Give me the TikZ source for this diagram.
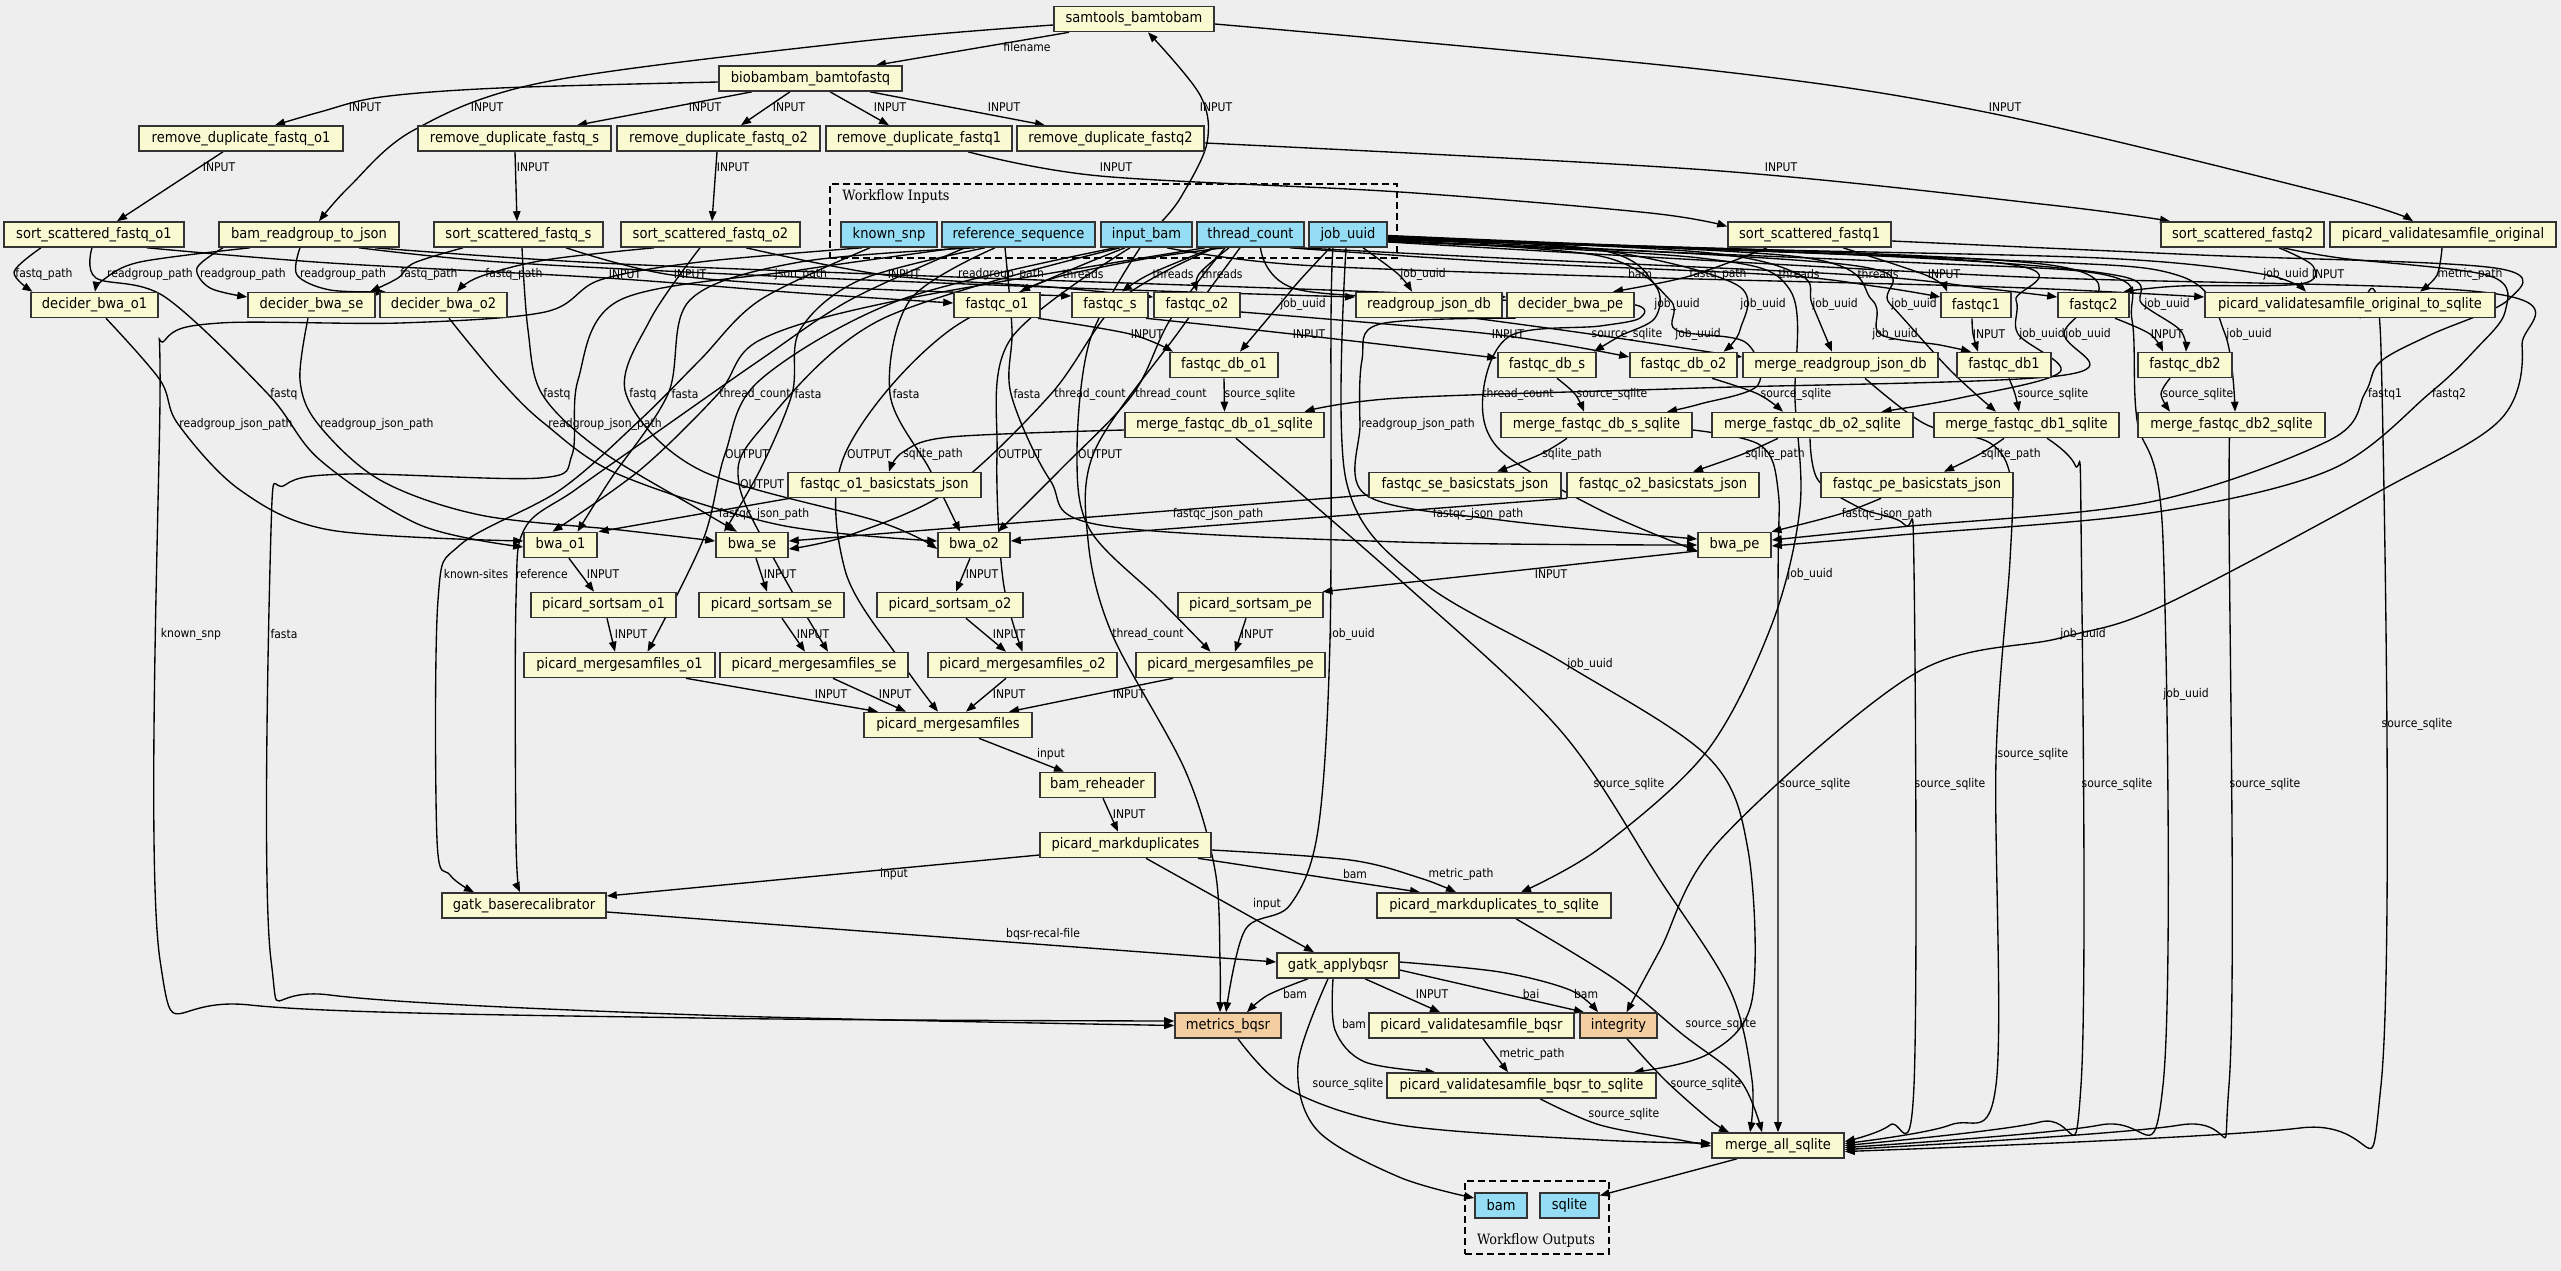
\documentclass[tikz,border=0pt]{standalone}
\usepackage{fontspec}
\newfontfamily\gvfont{DejaVu Sans}[FakeStretch=0.9]
\newfontfamily\gvserif{DejaVu Serif}[FakeStretch=0.9]
\usetikzlibrary{arrows.meta}
\definecolor{bgc}{RGB}{238,238,238}
\definecolor{stepc}{RGB}{250,250,210}
\definecolor{ioc}{RGB}{148,221,244}
\definecolor{subc}{RGB}{243,206,161}
\pgfdeclarelayer{bglayer}
\pgfdeclarelayer{edgelayer}
\pgfsetlayers{bglayer,edgelayer,main}
\tikzset{
 box/.style={draw=black!80,line width=1.6pt,minimum height=25pt,inner xsep=6pt,inner ysep=2pt,font=\gvfont\fontsize{14.5}{16}\selectfont,text=black},
 stpbox/.style={box,fill=stepc},
 iobox/.style={box,fill=ioc},
 subbox/.style={box,fill=subc},
 ed/.style={draw=black,line width=1.35pt,-{Triangle[length=10pt,width=7.5pt]}},
 lb/.style={font=\gvfont\fontsize{12}{13}\selectfont,inner sep=0pt,text=black},
 clus/.style={draw=black,line width=1.4pt,dash pattern=on 7pt off 4pt},
}
\newcounter{lbc}
\newcommand\nd[5]{\node[#1,minimum width=#5pt] (#2) at (#3) {\detokenize{#4}};}
\newcommand\lab[3]{\stepcounter{lbc}\node[lb] (lab\arabic{lbc}) at (#1,#2) {\detokenize{#3}};}
\newcommand\edg[1]{\begin{pgfonlayer}{edgelayer}\draw[ed] plot[smooth,tension=.55] coordinates {#1};\end{pgfonlayer}}
\begin{document}
\begin{tikzpicture}[x=1pt,y=-1pt]
\begin{pgfonlayer}{bglayer}
\fill[bgc] (0,0) rectangle (2561,1271);
\node[clus,minimum width=567pt,minimum height=74pt] (cin) at (1113.5,221) {};
\node[clus,minimum width=144pt,minimum height=73pt] (cout) at (1537,1217.5) {};
\end{pgfonlayer}
\useasboundingbox (0,0) rectangle (2561,1271);
\node[font=\gvserif\fontsize{14.3}{16}\selectfont,inner sep=0pt] (tin) at (896,197) {Workflow Inputs};
\node[font=\gvserif\fontsize{14.3}{16}\selectfont,inner sep=0pt] (tout) at (1536,1241) {Workflow Outputs};
% nodes
\nd{stpbox}{st}{1134,19}{samtools_bamtobam}{160}
\nd{stpbox}{bb}{810.5,78.5}{biobambam_bamtofastq}{183}
\nd{stpbox}{rdo1}{241,138.5}{remove_duplicate_fastq_o1}{204}
\nd{stpbox}{rds}{514.5,138.5}{remove_duplicate_fastq_s}{193}
\nd{stpbox}{rdo2}{718.5,138.5}{remove_duplicate_fastq_o2}{203}
\nd{stpbox}{rd1}{919,138.5}{remove_duplicate_fastq1}{186}
\nd{stpbox}{rd2}{1110.5,138.5}{remove_duplicate_fastq2}{187}
\nd{stpbox}{so1}{94,234.5}{sort_scattered_fastq_o1}{180}
\nd{stpbox}{brj}{309,234.5}{bam_readgroup_to_json}{180}
\nd{stpbox}{ss}{518.5,234.5}{sort_scattered_fastq_s}{169}
\nd{stpbox}{so2}{710.5,234.5}{sort_scattered_fastq_o2}{179}
\nd{iobox}{ksnp}{889,234.5}{known_snp}{96}
\nd{iobox}{ref}{1018.5,234.5}{reference_sequence}{153}
\nd{iobox}{ibam}{1146.5,234.5}{input_bam}{91}
\nd{iobox}{tc}{1250.5,234.5}{thread_count}{107}
\nd{iobox}{ju}{1348,234.5}{job_uuid}{78}
\nd{stpbox}{s1}{1809.5,234.5}{sort_scattered_fastq1}{163}
\nd{stpbox}{s2}{2242.5,234.5}{sort_scattered_fastq2}{163}
\nd{stpbox}{pvo}{2443,234.5}{picard_validatesamfile_original}{226}
\nd{stpbox}{do1}{94.5,305}{decider_bwa_o1}{127}
\nd{stpbox}{dse}{311.5,305}{decider_bwa_se}{127}
\nd{stpbox}{do2}{443.5,305}{decider_bwa_o2}{127}
\nd{stpbox}{fo1}{997,305}{fastqc_o1}{86}
\nd{stpbox}{fs}{1110,305}{fastqc_s}{76}
\nd{stpbox}{fo2}{1197,305}{fastqc_o2}{86}
\nd{stpbox}{rjdb}{1429,305}{readgroup_json_db}{146}
\nd{stpbox}{dpe}{1570.5,305}{decider_bwa_pe}{127}
\nd{stpbox}{f1}{1976,305}{fastqc1}{70}
\nd{stpbox}{f2}{2093.5,305}{fastqc2}{71}
\nd{stpbox}{pvos}{2350,305}{picard_validatesamfile_original_to_sqlite}{290}
\nd{stpbox}{fdo1}{1224,365}{fastqc_db_o1}{108}
\nd{stpbox}{fds}{1547,365}{fastqc_db_s}{98}
\nd{stpbox}{fdo2}{1683.5,365}{fastqc_db_o2}{107}
\nd{stpbox}{mrj}{1840.5,365}{merge_readgroup_json_db}{195}
\nd{stpbox}{fd1}{2004,365}{fastqc_db1}{94}
\nd{stpbox}{fd2}{2185,365}{fastqc_db2}{94}
\nd{stpbox}{mo1}{1224.5,425}{merge_fastqc_db_o1_sqlite}{199}
\nd{stpbox}{ms}{1596.5,425}{merge_fastqc_db_s_sqlite}{191}
\nd{stpbox}{mo2}{1812.5,425}{merge_fastqc_db_o2_sqlite}{201}
\nd{stpbox}{md1}{2026.5,425}{merge_fastqc_db1_sqlite}{185}
\nd{stpbox}{md2}{2231.5,425}{merge_fastqc_db2_sqlite}{187}
\nd{stpbox}{bo1}{884.5,485}{fastqc_o1_basicstats_json}{193}
\nd{stpbox}{bse}{1465,485}{fastqc_se_basicstats_json}{192}
\nd{stpbox}{bo2}{1663,485}{fastqc_o2_basicstats_json}{192}
\nd{stpbox}{bpe}{1917,485}{fastqc_pe_basicstats_json}{192}
\nd{stpbox}{wo1}{560.5,545}{bwa_o1}{73}
\nd{stpbox}{wse}{752,545}{bwa_se}{72}
\nd{stpbox}{wo2}{974,545}{bwa_o2}{72}
\nd{stpbox}{wpe}{1734.5,545}{bwa_pe}{73}
\nd{stpbox}{pso1}{603.5,605}{picard_sortsam_o1}{145}
\nd{stpbox}{psse}{771.5,605}{picard_sortsam_se}{145}
\nd{stpbox}{pso2}{950,605}{picard_sortsam_o2}{146}
\nd{stpbox}{pspe}{1250.5,605}{picard_sortsam_pe}{145}
\nd{stpbox}{pmo1}{619.5,665}{picard_mergesamfiles_o1}{191}
\nd{stpbox}{pmse}{814,665}{picard_mergesamfiles_se}{188}
\nd{stpbox}{pmo2}{1022.5,665}{picard_mergesamfiles_o2}{189}
\nd{stpbox}{pmpe}{1230.5,665}{picard_mergesamfiles_pe}{189}
\nd{stpbox}{pm}{948,725}{picard_mergesamfiles}{168}
\nd{stpbox}{br}{1097.5,785}{bam_reheader}{115}
\nd{stpbox}{pmd}{1125.5,845}{picard_markduplicates}{171}
\nd{stpbox}{gbr}{524,905.5}{gatk_baserecalibrator}{164}
\nd{stpbox}{pmds}{1494,905.5}{picard_markduplicates_to_sqlite}{234}
\nd{stpbox}{gab}{1338,965.5}{gatk_applybqsr}{122}
\nd{subbox}{mb}{1228,1025.5}{metrics_bqsr}{106}
\nd{stpbox}{pvb}{1471.5,1025.5}{picard_validatesamfile_bqsr}{205}
\nd{subbox}{integ}{1618.5,1025.5}{integrity}{77}
\nd{stpbox}{pvbs}{1521.5,1085.5}{picard_validatesamfile_bqsr_to_sqlite}{269}
\nd{stpbox}{mall}{1778,1145.5}{merge_all_sqlite}{132}
\nd{iobox}{obam}{1501,1205.5}{bam}{52}
\nd{iobox}{osql}{1569.5,1205.5}{sqlite}{59}
% edges
\edg{([xshift=15.5]ibam.north) (1181,197) (1207,143) (1200,95) ([xshift=14]st.south)}
\edg{([xshift=-65]st.south) ([xshift=65.5]bb.north)}
\edg{([yshift=-6]st.west) (854,42) (545,82) (414,130) (349,187) ([xshift=10]brj.north)}
\edg{([yshift=-5]st.east) (1708,70) (1985,112) (2333,195) ([xshift=-30]pvo.north)}
\edg{([yshift=-3.5]bb.west) (500,88) (381,97) (320,112) ([xshift=34]rdo1.north)}
\edg{([xshift=-58.5]bb.south) ([xshift=62.5]rds.north)}
\edg{([xshift=-20.5]bb.south) ([xshift=22.5]rdo2.north)}
\edg{([xshift=19.5]bb.south) ([xshift=-30]rd1.north)}
\edg{([xshift=59.5]bb.south) ([xshift=-65.5]rd2.north)}
\edg{([xshift=-18]rdo1.south) ([xshift=23]so1.north)}
\edg{([xshift=0.5]rds.south) ([xshift=-1.5]ss.north)}
\edg{([xshift=-1.5]rdo2.south) ([xshift=1.5]so2.north)}
\edg{([xshift=49]rd1.south) (1100,176) (1400,192) (1650,213) ([yshift=8]s1.west)}
\edg{([yshift=-4.5]rd2.east) (1707,170) (2050,205) ([xshift=-72.5]s2.north)}
\edg{([xshift=-53]so1.south) (14,272) ([xshift=-62]do1.north)}
\edg{([xshift=-59]brj.south) (140,262) (103,280) ([xshift=0.5]do1.north)}
\edg{([xshift=-86]brj.south) (197,268) (210,288) ([yshift=8]dse.west)}
\edg{([xshift=-9]brj.south) (297,275) (330,290) ([xshift=-58]do2.north)}
\edg{([xshift=-55.5]ss.south) (414,263) (398,278) ([xshift=58.5]dse.north)}
\edg{([xshift=-56.5]so2.south) (545,260) (479,277) ([xshift=13.5]do2.north)}
\edg{([xshift=53]so1.south) (330,263) (606,278) (800,293) ([yshift=2]fo1.west)}
\edg{([xshift=47.5]ss.south) (672,275) (850,288) ([yshift=9]fs.west)}
\edg{([xshift=35.5]so2.south) (885,275) (1050,287) ([yshift=8]fo2.west)}
\edg{([xshift=50]brj.south) (500,262) (772,276) (1100,289) ([yshift=8]rjdb.west)}
\edg{([xshift=66]brj.south) (600,263) (955,277) (1300,289) ([yshift=8]dpe.west)}
\edg{([xshift=-26.5]tc.south) (1150,258) (1061,276) ([xshift=23]fo1.north)}
\edg{([xshift=-37.5]tc.south) (1150,274) ([xshift=12]fs.north)}
\edg{([xshift=-21.5]tc.south) (1199,274) (fo2.north)}
\edg{([xshift=15]ju.south) (1398,274) ([xshift=-17]rjdb.north)}
\edg{([xshift=20.5]ibam.south) (1300,265) (1626,277) (2000,287) ([yshift=8]pvos.west)}
\edg{([xshift=-42.5]s1.south) (1690,276) ([xshift=42.5]dpe.north)}
\edg{([xshift=33.5]s1.south) (1928,276) ([xshift=-29]f1.north)}
\edg{([xshift=39.5]tc.south) (1500,262) (1777,275) (1880,287) ([yshift=8]f1.west)}
\edg{([xshift=49.5]tc.south) (1500,258) (1855,275) (1990,289) ([yshift=8]f2.west)}
\edg{([xshift=36.5]s2.south) (2313,266) (2300,284) (2180,286) ([xshift=30]f2.north)}
\edg{([yshift=-1]ju.east) (1700,248) (2100,258) (2262,274) ([xshift=-44]pvos.north)}
\edg{([xshift=-1]pvo.south) (2437,275) ([xshift=70]pvos.north)}
\edg{([xshift=-18]ju.south) (1300,280) (1280,304) ([xshift=16]fdo1.north)}
\edg{([xshift=41]fo1.south) (1130,334) ([xshift=-51]fdo1.north)}
\edg{([xshift=36]fs.south) (1292,334) ([yshift=7]fds.west)}
\edg{([yshift=-7]fo2.east) (1491,334) ([yshift=8]fdo2.west)}
\edg{([xshift=46]rjdb.south) (1590,334) ([yshift=8]mrj.west)}
\edg{([yshift=-1.5]ju.east) (1600,250) (1655,285) (1655,318) (1620,336) ([xshift=47]fds.north)}
\edg{([yshift=-2]ju.east) (1600,250) (1737,285) (1740,330) ([xshift=40]fdo2.north)}
\edg{([yshift=-2.5]ju.east) (1700,252) (1800,275) (1812,304) ([xshift=-8.5]mrj.north)}
\edg{([yshift=-3]ju.east) (1800,257) (1872,300) (1880,334) (1940,345) ([xshift=-33]fd1.north)}
\edg{([xshift=-4]f1.south) (1973,334) ([xshift=-26]fd1.north)}
\edg{([xshift=21.5]f2.south) (2150,334) ([xshift=-22]fd2.north)}
\edg{([yshift=-3.5]ju.east) (1900,257) (2120,276) (2142,304) (2180,330) ([xshift=1]fd2.north)}
\edg{([yshift=-4]ju.east) (2000,260) (2180,276) (2225,334) ([xshift=3.5]md2.north)}
\edg{([yshift=-4.5]ju.east) (1850,265) (1890,304) (1950,370) ([xshift=-30.5]md1.north)}
\edg{([yshift=-5]ju.east) (1990,262) (2016,300) (2018,334) (2060,372) (1960,398) ([xshift=69]mo2.north)}
\edg{([yshift=-5.5]ju.east) (2050,265) (2064,334) (2065,375) (1700,388) (1400,398) ([xshift=80]mo1.north)}
\edg{([yshift=-6]ju.east) (1600,256) (1670,300) (1676,330) (1745,342) (1758,385) (1700,404) ([xshift=70.5]ms.north)}
\edg{(fdo1.south) (mo1.north)}
\edg{([xshift=10]fds.south) (1575,394) ([xshift=-12.5]ms.north)}
\edg{([xshift=28.5]fdo2.south) (1758,394) ([xshift=-29.5]mo2.north)}
\edg{([xshift=5]fd1.south) (2015,394) ([xshift=-7.5]md1.north)}
\edg{([xshift=-15]fd2.south) (2161,394) ([xshift=-61.5]md2.north)}
\edg{([yshift=-5]mo1.west) (950,437) (903,452) ([xshift=4.5]bo1.north)}
\edg{([xshift=-29.5]ms.south) (1541,454) ([xshift=32]bse.north)}
\edg{([xshift=-34.5]mo2.south) (1743,454) ([xshift=30]bo2.north)}
\edg{([xshift=-22.5]md1.south) (1980,454) ([xshift=27]bpe.north)}
\edg{([xshift=-94.5]bo1.south) ([xshift=38]wo1.north)}
\edg{([yshift=-10]bse.west) ([yshift=4]wse.east)}
\edg{([xshift=-96]bo2.south) ([yshift=4]wo2.east)}
\edg{([xshift=-36]bpe.south) (1840,514) ([xshift=37]wpe.north)}
\edg{([xshift=11.5]do1.south) (160,380) (178,424) (240,490) (330,530) ([yshift=4]wo1.west)}
\edg{([xshift=-3.5]dse.south) (300,380) (318,424) (380,480) (480,515) (620,530) ([yshift=4]wse.west)}
\edg{([xshift=5.5]do2.south) (500,380) (545,424) (620,475) (780,525) ([yshift=4]wo2.west)}
\edg{([xshift=-55]dpe.south) (1380,324) (1362,360) (1360,424) (1366,495) (1500,520) ([yshift=6]wpe.west)}
\edg{([xshift=10]tc.south) (1300,290) (1500,300) (1630,304) (1640,318) (1600,326) (1510,336) (1483,394) (1500,450) (1600,510) ([yshift=-6]wpe.west)}
\edg{([xshift=-2]so1.south) (96,278) (165,297) (268,394) (320,460) (420,525) ([yshift=-2]wo1.west)}
\edg{([xshift=3.5]ss.south) (528,330) (542,394) (600,450) (700,510) ([xshift=-15]wse.north)}
\edg{([xshift=-10.5]so2.south) (650,320) (626,394) (700,470) (880,522) ([yshift=-4]wo2.west)}
\edg{([yshift=-6.5]s1.east) (2200,255) (2495,268) (2508,300) (2430,335) (2380,362) (2365,393) (2330,440) (2150,502) (1900,527) ([yshift=5]wpe.east)}
\edg{([xshift=40.5]s2.south) (2340,258) (2490,276) (2505,312) (2475,350) (2430,393) (2330,470) (2150,513) (1900,535) ([yshift=-1]wpe.east)}
\edg{([xshift=-43.5]ref.south) (800,262) (690,300) (668,394) (610,480) ([xshift=17]wo1.north)}
\edg{([xshift=-33.5]ref.south) (860,280) (800,330) (792,394) (760,470) ([xshift=-28]wse.north)}
\edg{([xshift=-23.5]ref.south) (910,300) (890,394) (930,470) ([xshift=-14]wo2.north)}
\edg{([xshift=-13.5]ref.south) (1012,330) (1011,394) (1050,480) (1100,525) (1400,542) (wpe.west)}
\edg{([xshift=-45.5]tc.south) (900,300) (760,340) (718,394) (640,470) ([xshift=-8]wo1.north)}
\edg{([xshift=-35.5]tc.south) (1120,300) (1051,394) (950,490) (850,535) ([yshift=-4]wse.east)}
\edg{([xshift=-25.5]tc.south) (1170,320) (1133,394) (1060,470) ([xshift=24]wo2.north)}
\edg{([xshift=-31.5]ibam.south) (900,300) (760,380) (725,454) (703,540) ([xshift=28]pmo1.north)}
\edg{([xshift=-26.5]ibam.south) (880,320) (760,430) (739,484) (780,570) ([xshift=14]pmse.north)}
\edg{([xshift=-21.5]ibam.south) (950,330) (845,454) (845,570) (900,660) ([xshift=-10]pm.north)}
\edg{([xshift=-16.5]ibam.south) (1010,340) (997,454) (1003,580) (pmo2.north)}
\edg{([xshift=-6.5]ibam.south) (1090,340) (1077,454) (1090,530) (1160,600) ([xshift=-20]pmpe.north)}
\edg{([xshift=8.5]wo1.south) ([xshift=-9.5]pso1.north)}
\edg{([xshift=4]wse.south) ([xshift=-4.5]psse.north)}
\edg{([xshift=-4]wo2.south) ([xshift=6]pso2.north)}
\edg{([yshift=-6]wpe.west) ([xshift=72]pspe.north)}
\edg{([xshift=3.5]pso1.south) ([xshift=-4.5]pmo1.north)}
\edg{([xshift=10.5]psse.south) ([xshift=-9]pmse.north)}
\edg{([xshift=16]pso2.south) ([xshift=-16.5]pmo2.north)}
\edg{([xshift=-4.5]pspe.south) ([xshift=4.5]pmpe.north)}
\edg{([xshift=66.5]pmo1.south) ([xshift=-70]pm.north)}
\edg{([xshift=19]pmse.south) ([xshift=-42]pm.north)}
\edg{([xshift=-16.5]pmo2.south) ([xshift=18]pm.north)}
\edg{([xshift=-57.5]pmpe.south) ([xshift=61]pm.north)}
\edg{([xshift=31]pm.south) ([xshift=-33.5]br.north)}
\edg{([xshift=5.5]br.south) ([xshift=-7.5]pmd.north)}
\edg{([yshift=-10]pmd.west) ([yshift=9.5]gbr.east)}
\edg{([xshift=20.5]pmd.south) ([xshift=-24]gab.north)}
\edg{([xshift=72.5]pmd.south) ([xshift=-74]pmds.north)}
\edg{([yshift=-5]pmd.east) (1350,860) (1420,878) ([xshift=-38]pmds.north)}
\edg{([yshift=-6.5]gbr.east) ([yshift=3.5]gab.west)}
\edg{([xshift=-30]gab.south) (1268,995) ([xshift=19]mb.north)}
\edg{([xshift=27]gab.south) ([xshift=-31.5]pvb.north)}
\edg{([yshift=-4.5]gab.east) ([xshift=-34.5]integ.north)}
\edg{([yshift=3.5]gab.east) (1500,972) (1570,990) ([xshift=-20.5]integ.north)}
\edg{([xshift=-5]gab.south) (1335,1030) (1365,1062) ([xshift=-86]pvbs.north)}
\edg{([xshift=11.5]pvb.south) ([xshift=-13.5]pvbs.north)}
\edg{([xshift=10]mb.south) (1290,1090) (1400,1125) (1600,1140) ([yshift=2.5]mall.west)}
\edg{([xshift=18.5]pvbs.south) (1600,1125) (1680,1140) ([yshift=-0.5]mall.west)}
\edg{([xshift=8.5]integ.south) (1665,1080) (1710,1120) ([xshift=-49]mall.north)}
\edg{([xshift=22]pmds.south) (1616,980) (1682,1034) (1740,1080) ([xshift=-16]mall.north)}
\edg{([xshift=11.5]mo1.south) (1400,580) (1560,730) (1660,880) (1730,990) (1752,1080) ([xshift=-28]mall.north)}
\edg{([yshift=-5]ms.east) (1760,445) (1778,490) (1778,600) (mall.north)}
\edg{([xshift=-2.5]mo2.south) (1818,480) (1860,508) (1905,525) (1914,570) (1914,1085) (1890,1125) ([yshift=4]mall.east)}
\edg{([xshift=24.5]mrj.south) (1925,424) (1990,443) (2011,480) (2010,560) (1996,760) (1996,1085) (1950,1125) ([yshift=2]mall.east)}
\edg{([xshift=20.5]md1.south) (2075,465) (2081,520) (2081,1085) (2040,1122) (mall.east)}
\edg{([yshift=-6.5]ju.east) (1900,262) (2110,276) (2132,320) (2137,420) (2163,540) (2163,1085) (2100,1125) ([yshift=-2]mall.east)}
\edg{([xshift=-1.5]md2.south) (2229,500) (2229,1085) (2180,1125) ([yshift=-4]mall.east)}
\edg{([xshift=10]pvos.south) (2381,350) (2381,1085) (2300,1128) ([yshift=-6]mall.east)}
\edg{([xshift=-15]ju.south) (1331,320) (1330,640) (1318,830) (1290,905) (1245,930) ([xshift=-2]mb.north)}
\edg{([xshift=-10.5]tc.south) (1180,330) (1095,450) (1088,540) (1112,634) (1185,770) (1215,870) (1220,960) ([xshift=-8]mb.north)}
\edg{([xshift=-27]ksnp.south) (700,262) (600,280) (545,312) (400,323) (220,323) (165,340) (160,400) (160,960) (250,1005) (700,1018) ([yshift=4.5]mb.west)}
\edg{([xshift=-60.5]ref.south) (800,270) (620,300) (578,380) (572,455) (540,478) (350,474) (285,485) (271,530) (271,960) (330,995) (700,1015) (mb.west)}
\edg{([xshift=-19]ksnp.south) (760,300) (700,360) (640,420) (560,490) (460,545) (438,600) (437,840) (450,875) ([xshift=-50]gbr.north)}
\edg{([xshift=-53.5]ref.south) (850,300) (760,360) (660,430) (575,490) (525,528) (516,600) (516,840) ([xshift=-4]gbr.north)}
\edg{([xshift=-10]gab.south) (1298,1064) (1317,1130) (1399,1177) ([yshift=7.5]obam.west)}
\edg{([xshift=-41]mall.south) ([yshift=10]osql.east)}
\edg{([yshift=-7]ju.east) (1700,258) (1790,290) (1795,400) (1800,507) (1772,624) (1707,751) (1600,848) ([xshift=27]pmds.north)}
\edg{([xshift=-2]ju.south) (1346,480) (1420,580) (1565,664) (1708,757) (1748,850) (1752,1000) (1708,1054) ([xshift=112]pvbs.north)}
\edg{([yshift=-7.5]ju.east) (2000,276) (2490,293) (2522,345) (2500,420) (2380,491) (2160,607) (2060,638) (1914,674) (1720,840) (1660,950) ([xshift=8]integ.north)}
% labels
\lab{1027}{47}{filename}
\lab{1216}{107}{INPUT}\lab{487}{107}{INPUT}\lab{365}{107}{INPUT}\lab{705}{107}{INPUT}
\lab{789}{107}{INPUT}\lab{890}{107}{INPUT}\lab{1004}{107}{INPUT}\lab{2005}{107}{INPUT}
\lab{219}{167}{INPUT}\lab{533}{167}{INPUT}\lab{733}{167}{INPUT}\lab{1116}{167}{INPUT}\lab{1781}{167}{INPUT}
\lab{44}{274}{fastq_path}\lab{150}{274}{readgroup_path}\lab{243}{274}{readgroup_path}\lab{343}{274}{readgroup_path}
\lab{429}{274}{fastq_path}\lab{514}{274}{fastq_path}\lab{625}{274}{INPUT}\lab{690}{274}{INPUT}
\lab{801}{274}{json_path}\lab{904}{274}{INPUT}\lab{1001}{274}{readgroup_path}\lab{1083}{274}{threads}
\lab{1173}{274}{threads}\lab{1222}{274}{threads}\lab{1423}{274}{job_uuid}\lab{1640}{274}{bam}
\lab{1718}{274}{fastq_path}\lab{1799}{274}{threads}\lab{1878}{274}{threads}\lab{1944}{274}{INPUT}
\lab{2286}{274}{job_uuid}\lab{2328}{274}{INPUT}\lab{2470}{274}{metric_path}
\lab{1303}{304}{job_uuid}\lab{1677}{304}{job_uuid}\lab{1763}{304}{job_uuid}\lab{1835}{304}{job_uuid}
\lab{1914}{304}{job_uuid}\lab{2167}{304}{job_uuid}
\lab{1147}{334}{INPUT}\lab{1309}{334}{INPUT}\lab{1508}{334}{INPUT}\lab{1627}{334}{source_sqlite}
\lab{1698}{334}{job_uuid}\lab{1895}{334}{job_uuid}\lab{1989}{334}{INPUT}\lab{2042}{334}{job_uuid}
\lab{2088}{334}{job_uuid}\lab{2167}{334}{INPUT}\lab{2249}{334}{job_uuid}
\lab{284}{394}{fastq}\lab{557}{394}{fastq}\lab{643}{394}{fastq}\lab{685}{394}{fasta}
\lab{755}{394}{thread_count}\lab{808}{394}{fasta}\lab{906}{394}{fasta}\lab{1027}{394}{fasta}
\lab{1090}{394}{thread_count}\lab{1171}{394}{thread_count}\lab{1260}{394}{source_sqlite}
\lab{1518}{394}{thread_count}\lab{1612}{394}{source_sqlite}\lab{1796}{394}{source_sqlite}
\lab{2053}{394}{source_sqlite}\lab{2198}{394}{source_sqlite}\lab{2385}{394}{fastq1}\lab{2449}{394}{fastq2}
\lab{236}{424}{readgroup_json_path}\lab{377}{424}{readgroup_json_path}\lab{605}{424}{readgroup_json_path}\lab{1418}{424}{readgroup_json_path}
\lab{747}{454}{OUTPUT}\lab{869}{454}{OUTPUT}\lab{933}{454}{sqlite_path}\lab{1020}{454}{OUTPUT}
\lab{1100}{454}{OUTPUT}\lab{1572}{454}{sqlite_path}\lab{1775}{454}{sqlite_path}\lab{2011}{454}{sqlite_path}
\lab{762}{484}{OUTPUT}
\lab{764}{514}{fastqc_json_path}\lab{1218}{514}{fastqc_json_path}\lab{1478}{514}{fastqc_json_path}\lab{1887}{514}{fastqc_json_path}
\lab{476}{574}{known-sites}\lab{542}{574}{reference}\lab{603}{574}{INPUT}\lab{780}{574}{INPUT}
\lab{982}{574}{INPUT}\lab{1551}{574}{INPUT}\lab{1810}{574}{job_uuid}
\lab{191}{634}{known_snp}\lab{284}{634}{fasta}\lab{631}{634}{INPUT}\lab{813}{634}{INPUT}
\lab{1009}{634}{INPUT}\lab{1148}{634}{thread_count}\lab{1257}{634}{INPUT}\lab{1352}{634}{job_uuid}\lab{2083}{634}{job_uuid}
\lab{1590}{664}{job_uuid}
\lab{831}{694}{INPUT}\lab{895}{694}{INPUT}\lab{1009}{694}{INPUT}\lab{1129}{694}{INPUT}\lab{2186}{694}{job_uuid}
\lab{2417}{724}{source_sqlite}
\lab{1051}{754}{input}\lab{2033}{754}{source_sqlite}
\lab{1629}{784}{source_sqlite}\lab{1815}{784}{source_sqlite}\lab{1950}{784}{source_sqlite}
\lab{2117}{784}{source_sqlite}\lab{2265}{784}{source_sqlite}
\lab{1129}{814}{INPUT}
\lab{894}{874}{input}\lab{1355}{874}{bam}\lab{1461}{874}{metric_path}
\lab{1267}{904}{input}
\lab{1043}{934}{bqsr-recal-file}
\lab{1295}{994}{bam}\lab{1432}{994}{INPUT}\lab{1531}{994}{bai}\lab{1586}{994}{bam}
\lab{1354}{1024}{bam}\lab{1721}{1024}{source_sqlite}
\lab{1532}{1054}{metric_path}
\lab{1348}{1084}{source_sqlite}\lab{1706}{1084}{source_sqlite}
\lab{1624}{1114}{source_sqlite}
\end{tikzpicture}
\end{document}
